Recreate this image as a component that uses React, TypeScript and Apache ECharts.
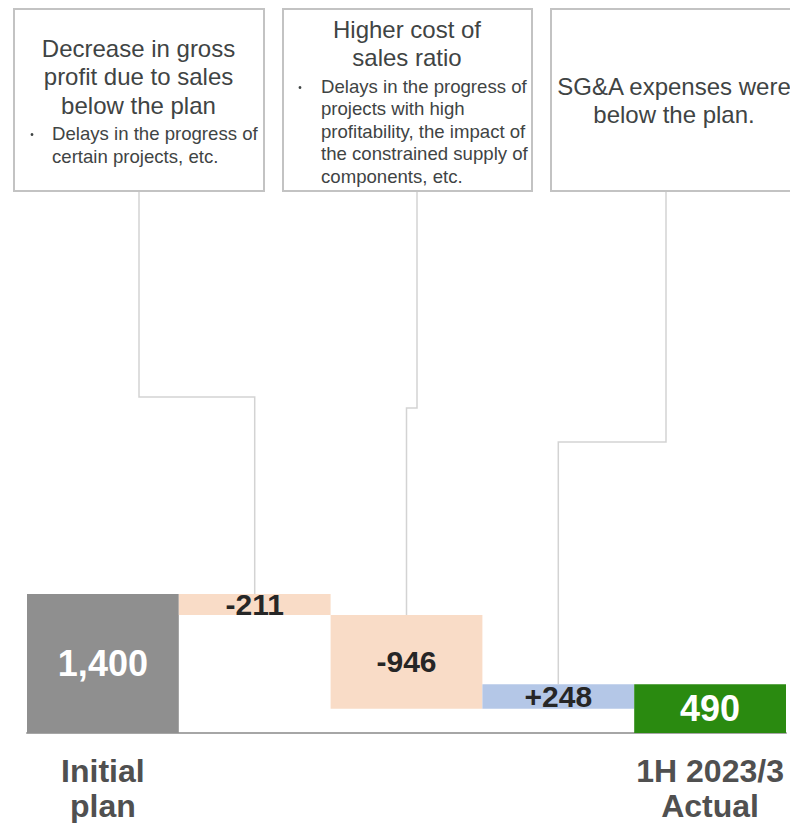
import React, { useEffect, useRef } from "react";
import * as echarts from "echarts";

const categories = ["Initial\nplan", "", "", "", "1H 2023/3\nActual"];
const bases = [0, 1189, 243, 243, 0];
const heights = [1400, 211, 946, 248, 490];
const valueLabels = ["1,400", "-211", "-946", "+248", "490"];
const barColors = ["#8f8f8f", "#f9dcc7", "#f9dcc7", "#b4c7e7", "#2a8a10"];
const labelColors = ["#ffffff", "#262626", "#262626", "#262626", "#ffffff"];
const labelSizes = [36, 30, 30, 30, 36];

const calloutTitles = [
  ["Decrease in gross", "profit due to sales", "below the plan"],
  ["Higher cost of", "sales ratio"],
  ["SG&A expenses were", "below the plan."],
];
const calloutBullets = [
  ["Delays in the progress of", "certain projects, etc."],
  [
    "Delays in the progress of",
    "projects with high",
    "profitability, the impact of",
    "the constrained supply of",
    "components, etc.",
  ],
  [],
];
const calloutTargets = [1, 2, 3];

const FONT = "'Liberation Sans', Arial, Helvetica, sans-serif";
const TEXT = "#3f4444";

// layout of callout boxes (pixels)
const boxLayout = [
  { x: 14, y: 9, w: 250, h: 182, cx: 138.5, titleY: 48, titleLH: 28.5, bulletX: 52, dotX: 32, bulletY: 133, bulletLH: 23.5, lineX: 139, elbowY: 397 },
  { x: 283, y: 9, w: 249, h: 182, cx: 407, titleY: 29, titleLH: 28.5, bulletX: 321, dotX: 300, bulletY: 86, bulletLH: 22.5, lineX: 417, elbowY: 408 },
  { x: 551, y: 9, w: 260, h: 182, cx: 674, titleY: 86, titleLH: 28.5, bulletX: 0, dotX: 0, bulletY: 0, bulletLH: 0, lineX: 666, elbowY: 442 },
];

export default function App() {
  const ref = useRef<HTMLDivElement>(null);

  useEffect(() => {
    document.body.style.margin = "0";
    const chart = echarts.init(ref.current!, null, { renderer: "svg" });

    chart.setOption({
      animation: false,
      backgroundColor: "#ffffff",
      grid: { left: 27, top: 594, width: 759, height: 139, containLabel: false },
      xAxis: {
        type: "category",
        data: categories,
        axisTick: { show: false },
        axisLine: { show: true, lineStyle: { color: "#a6a6a6", width: 2 } },
        axisLabel: {
          interval: 0,
          fontFamily: FONT,
          fontSize: 32,
          fontWeight: "bold",
          color: "#505050",
          lineHeight: 35,
          margin: 20,
        },
      },
      yAxis: { type: "value", min: 0, max: 1400, show: false, splitLine: { show: false } },
      series: [
        {
          type: "bar",
          stack: "w",
          barCategoryGap: 0,
          data: bases,
          itemStyle: { color: "transparent" },
          silent: true,
        },
        {
          type: "bar",
          stack: "w",
          barCategoryGap: 0,
          data: heights.map((v, i) => ({
            value: v,
            itemStyle: { color: barColors[i] },
            label: {
              show: true,
              position: "inside",
              formatter: valueLabels[i],
              color: labelColors[i],
              fontSize: labelSizes[i],
              fontWeight: "bold",
              fontFamily: FONT,
            },
          })),
        },
      ],
    });

    const graphics: any[] = [];
    boxLayout.forEach((b, k) => {
      const t = calloutTargets[k];
      const top = chart.convertToPixel({ xAxisIndex: 0, yAxisIndex: 0 }, [t, bases[t] + heights[t]]) as number[];
      graphics.push({
        type: "polyline",
        z: 5,
        shape: {
          points: [
            [b.lineX, b.y + b.h],
            [b.lineX, b.elbowY],
            [top[0], b.elbowY],
            [top[0], top[1]],
          ],
        },
        style: { stroke: "#d3d3d3", lineWidth: 1.5, fill: null },
      });
      graphics.push({
        type: "rect",
        z: 10,
        shape: { x: b.x, y: b.y, width: b.w, height: b.h },
        style: { fill: "#ffffff", stroke: "#c3c3c3", lineWidth: 2 },
      });
      calloutTitles[k].forEach((line, j) => {
        graphics.push({
          type: "text",
          z: 11,
          x: b.cx,
          y: b.titleY + j * b.titleLH,
          style: {
            text: line,
            fontFamily: FONT,
            fontSize: 24,
            fill: TEXT,
            align: "center",
            verticalAlign: "middle",
          },
        });
      });
      calloutBullets[k].forEach((line, j) => {
        if (j === 0) {
          graphics.push({
            type: "circle",
            z: 11,
            shape: { cx: b.dotX, cy: b.bulletY + 1.5, r: 1.4 },
            style: { fill: TEXT },
          });
        }
        graphics.push({
          type: "text",
          z: 11,
          x: b.bulletX,
          y: b.bulletY + j * b.bulletLH,
          style: {
            text: line,
            fontFamily: FONT,
            fontSize: 18.6,
            fill: TEXT,
            align: "left",
            verticalAlign: "middle",
          },
        });
      });
    });

    chart.setOption({ graphic: graphics });

    return () => chart.dispose();
  }, []);

  return <div ref={ref} style={{ width: 790, height: 823 }} />;
}
